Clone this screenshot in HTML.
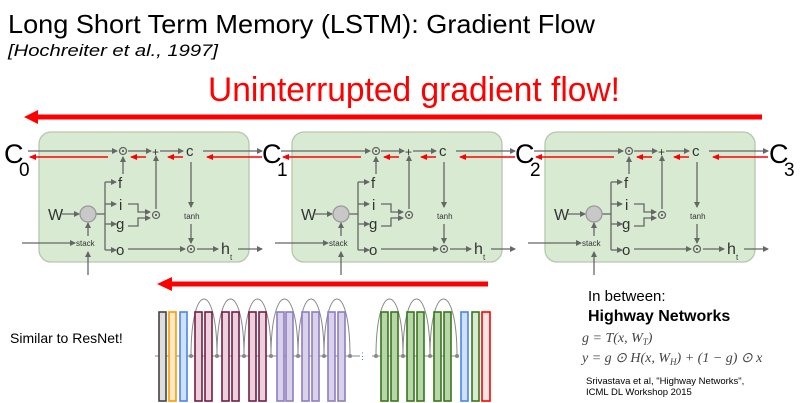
<!DOCTYPE html>
<html><head><meta charset="utf-8"><style>
html,body{margin:0;padding:0;background:#fff;}
svg{display:block;font-family:"Liberation Sans",Arial,sans-serif;}
.lb{fill:#333;font-size:15px;}
</style></head><body>
<svg width="800" height="403" viewBox="0 0 800 403" xmlns="http://www.w3.org/2000/svg">
<defs>
<marker id="ag" markerWidth="6" markerHeight="6" refX="5" refY="3" orient="auto" markerUnits="userSpaceOnUse"><path d="M0,0 L6,3 L0,6 z" fill="#666"/></marker>
<marker id="ar" markerWidth="7" markerHeight="6" refX="6" refY="3" orient="auto" markerUnits="userSpaceOnUse"><path d="M0,0 L7,3 L0,6 z" fill="#f00"/></marker>
</defs>
<text x="8" y="33" font-size="26" textLength="587" lengthAdjust="spacingAndGlyphs">Long Short Term Memory (LSTM): Gradient Flow</text>
<text x="8" y="56" font-size="17" font-style="italic" textLength="210" lengthAdjust="spacingAndGlyphs">[Hochreiter et al., 1997]</text>
<text x="208" y="101" font-size="34" fill="#f00" textLength="412" lengthAdjust="spacingAndGlyphs">Uninterrupted gradient flow!</text>
<line x1="762" y1="117" x2="36" y2="117" stroke="#f00" stroke-width="5"/>
<path d="M24,117 L38,110 L38,124 z" fill="#f00"/>

<g stroke-width="1.3">
<g>
<rect x="39" y="132" width="210" height="130" rx="12" fill="#d9ead3" stroke="#b5c7ae"/>
<g stroke="#666" fill="none">
<line x1="28" y1="151" x2="117" y2="151" marker-end="url(#ag)"/>
<line x1="128" y1="151" x2="151" y2="151" marker-end="url(#ag)"/>
<line x1="160" y1="151" x2="183" y2="151" marker-end="url(#ag)"/>
<line x1="203" y1="151" x2="262" y2="151" marker-end="url(#ag)"/>
<line x1="62" y1="214" x2="79" y2="214" marker-end="url(#ag)"/>
<line x1="96" y1="214" x2="105" y2="214"/>
<line x1="105" y1="182" x2="105" y2="250"/>
<line x1="105" y1="182" x2="116" y2="182" marker-end="url(#ag)"/>
<line x1="105" y1="204" x2="116" y2="204" marker-end="url(#ag)"/>
<line x1="105" y1="224" x2="116" y2="224" marker-end="url(#ag)"/>
<line x1="105" y1="250" x2="116" y2="250" marker-end="url(#ag)"/>
<line x1="123" y1="174" x2="123" y2="157" marker-end="url(#ag)"/>
<path d="M128,204 H138 V212 H150" marker-end="url(#ag)"/>
<path d="M128,226 H138 V218 H150" marker-end="url(#ag)"/>
<line x1="156" y1="209" x2="156" y2="156" marker-end="url(#ag)"/>
<line x1="191" y1="162" x2="191" y2="207" marker-end="url(#ag)"/>
<line x1="191" y1="224" x2="191" y2="243" marker-end="url(#ag)"/>
<line x1="128" y1="249" x2="185" y2="249" marker-end="url(#ag)"/>
<line x1="197" y1="249" x2="218" y2="249" marker-end="url(#ag)"/>
<line x1="238" y1="249" x2="262" y2="249" marker-end="url(#ag)"/>
<line x1="22" y1="243" x2="75" y2="243" marker-end="url(#ag)"/>
<line x1="88" y1="275" x2="88" y2="252" marker-end="url(#ag)"/>
<line x1="88" y1="236" x2="88" y2="223" marker-end="url(#ag)"/>
<circle cx="123" cy="151" r="3.5"/><circle cx="156" cy="215" r="3.5"/><circle cx="191" cy="249" r="3.5"/>
</g>
<circle cx="123" cy="151" r="1" fill="#444"/><circle cx="156" cy="215" r="1" fill="#444"/><circle cx="191" cy="249" r="1" fill="#444"/>
<circle cx="88" cy="214" r="8" fill="#c8c8c8" stroke="#999"/>
<g stroke="#f00" stroke-width="1.5">
<line x1="262" y1="157" x2="207" y2="157" marker-end="url(#ar)"/>
<line x1="183" y1="157" x2="168" y2="157" marker-end="url(#ar)"/>
<line x1="146" y1="157" x2="131" y2="157" marker-end="url(#ar)"/>
<line x1="108" y1="157" x2="30" y2="157" marker-end="url(#ar)"/>
</g>
<g class="lb">
<text x="152" y="156" font-size="12">+</text>
<text x="186" y="156" font-size="15">c</text>
<text x="118" y="188">f</text><text x="119" y="210">i</text><text x="116" y="229">g</text><text x="116" y="255">o</text>
<text x="48" y="220" font-size="16">W</text>
<text x="76" y="246" font-size="8">stack</text>
<text x="184" y="219" font-size="8">tanh</text>
<text x="221" y="254" font-size="16">h</text><text x="230" y="260" font-size="8">t</text>
</g>
</g>
<g transform="translate(253,0)">
<rect x="39" y="132" width="210" height="130" rx="12" fill="#d9ead3" stroke="#b5c7ae"/>
<g stroke="#666" fill="none">
<line x1="28" y1="151" x2="117" y2="151" marker-end="url(#ag)"/>
<line x1="128" y1="151" x2="151" y2="151" marker-end="url(#ag)"/>
<line x1="160" y1="151" x2="183" y2="151" marker-end="url(#ag)"/>
<line x1="203" y1="151" x2="262" y2="151" marker-end="url(#ag)"/>
<line x1="62" y1="214" x2="79" y2="214" marker-end="url(#ag)"/>
<line x1="96" y1="214" x2="105" y2="214"/>
<line x1="105" y1="182" x2="105" y2="250"/>
<line x1="105" y1="182" x2="116" y2="182" marker-end="url(#ag)"/>
<line x1="105" y1="204" x2="116" y2="204" marker-end="url(#ag)"/>
<line x1="105" y1="224" x2="116" y2="224" marker-end="url(#ag)"/>
<line x1="105" y1="250" x2="116" y2="250" marker-end="url(#ag)"/>
<line x1="123" y1="174" x2="123" y2="157" marker-end="url(#ag)"/>
<path d="M128,204 H138 V212 H150" marker-end="url(#ag)"/>
<path d="M128,226 H138 V218 H150" marker-end="url(#ag)"/>
<line x1="156" y1="209" x2="156" y2="156" marker-end="url(#ag)"/>
<line x1="191" y1="162" x2="191" y2="207" marker-end="url(#ag)"/>
<line x1="191" y1="224" x2="191" y2="243" marker-end="url(#ag)"/>
<line x1="128" y1="249" x2="185" y2="249" marker-end="url(#ag)"/>
<line x1="197" y1="249" x2="218" y2="249" marker-end="url(#ag)"/>
<line x1="238" y1="249" x2="262" y2="249" marker-end="url(#ag)"/>
<line x1="22" y1="243" x2="75" y2="243" marker-end="url(#ag)"/>
<line x1="88" y1="275" x2="88" y2="252" marker-end="url(#ag)"/>
<line x1="88" y1="236" x2="88" y2="223" marker-end="url(#ag)"/>
<circle cx="123" cy="151" r="3.5"/><circle cx="156" cy="215" r="3.5"/><circle cx="191" cy="249" r="3.5"/>
</g>
<circle cx="123" cy="151" r="1" fill="#444"/><circle cx="156" cy="215" r="1" fill="#444"/><circle cx="191" cy="249" r="1" fill="#444"/>
<circle cx="88" cy="214" r="8" fill="#c8c8c8" stroke="#999"/>
<g stroke="#f00" stroke-width="1.5">
<line x1="262" y1="157" x2="207" y2="157" marker-end="url(#ar)"/>
<line x1="183" y1="157" x2="168" y2="157" marker-end="url(#ar)"/>
<line x1="146" y1="157" x2="131" y2="157" marker-end="url(#ar)"/>
<line x1="108" y1="157" x2="30" y2="157" marker-end="url(#ar)"/>
</g>
<g class="lb">
<text x="152" y="156" font-size="12">+</text>
<text x="186" y="156" font-size="15">c</text>
<text x="118" y="188">f</text><text x="119" y="210">i</text><text x="116" y="229">g</text><text x="116" y="255">o</text>
<text x="48" y="220" font-size="16">W</text>
<text x="76" y="246" font-size="8">stack</text>
<text x="184" y="219" font-size="8">tanh</text>
<text x="221" y="254" font-size="16">h</text><text x="230" y="260" font-size="8">t</text>
</g>
</g>
<g transform="translate(506,0)">
<rect x="39" y="132" width="210" height="130" rx="12" fill="#d9ead3" stroke="#b5c7ae"/>
<g stroke="#666" fill="none">
<line x1="28" y1="151" x2="117" y2="151" marker-end="url(#ag)"/>
<line x1="128" y1="151" x2="151" y2="151" marker-end="url(#ag)"/>
<line x1="160" y1="151" x2="183" y2="151" marker-end="url(#ag)"/>
<line x1="203" y1="151" x2="262" y2="151" marker-end="url(#ag)"/>
<line x1="62" y1="214" x2="79" y2="214" marker-end="url(#ag)"/>
<line x1="96" y1="214" x2="105" y2="214"/>
<line x1="105" y1="182" x2="105" y2="250"/>
<line x1="105" y1="182" x2="116" y2="182" marker-end="url(#ag)"/>
<line x1="105" y1="204" x2="116" y2="204" marker-end="url(#ag)"/>
<line x1="105" y1="224" x2="116" y2="224" marker-end="url(#ag)"/>
<line x1="105" y1="250" x2="116" y2="250" marker-end="url(#ag)"/>
<line x1="123" y1="174" x2="123" y2="157" marker-end="url(#ag)"/>
<path d="M128,204 H138 V212 H150" marker-end="url(#ag)"/>
<path d="M128,226 H138 V218 H150" marker-end="url(#ag)"/>
<line x1="156" y1="209" x2="156" y2="156" marker-end="url(#ag)"/>
<line x1="191" y1="162" x2="191" y2="207" marker-end="url(#ag)"/>
<line x1="191" y1="224" x2="191" y2="243" marker-end="url(#ag)"/>
<line x1="128" y1="249" x2="185" y2="249" marker-end="url(#ag)"/>
<line x1="197" y1="249" x2="218" y2="249" marker-end="url(#ag)"/>
<line x1="238" y1="249" x2="262" y2="249" marker-end="url(#ag)"/>
<line x1="22" y1="243" x2="75" y2="243" marker-end="url(#ag)"/>
<line x1="88" y1="275" x2="88" y2="252" marker-end="url(#ag)"/>
<line x1="88" y1="236" x2="88" y2="223" marker-end="url(#ag)"/>
<circle cx="123" cy="151" r="3.5"/><circle cx="156" cy="215" r="3.5"/><circle cx="191" cy="249" r="3.5"/>
</g>
<circle cx="123" cy="151" r="1" fill="#444"/><circle cx="156" cy="215" r="1" fill="#444"/><circle cx="191" cy="249" r="1" fill="#444"/>
<circle cx="88" cy="214" r="8" fill="#c8c8c8" stroke="#999"/>
<g stroke="#f00" stroke-width="1.5">
<line x1="262" y1="157" x2="207" y2="157" marker-end="url(#ar)"/>
<line x1="183" y1="157" x2="168" y2="157" marker-end="url(#ar)"/>
<line x1="146" y1="157" x2="131" y2="157" marker-end="url(#ar)"/>
<line x1="108" y1="157" x2="30" y2="157" marker-end="url(#ar)"/>
</g>
<g class="lb">
<text x="152" y="156" font-size="12">+</text>
<text x="186" y="156" font-size="15">c</text>
<text x="118" y="188">f</text><text x="119" y="210">i</text><text x="116" y="229">g</text><text x="116" y="255">o</text>
<text x="48" y="220" font-size="16">W</text>
<text x="76" y="246" font-size="8">stack</text>
<text x="184" y="219" font-size="8">tanh</text>
<text x="221" y="254" font-size="16">h</text><text x="230" y="260" font-size="8">t</text>
</g>
</g>
</g>
<g font-size="27" fill="#000">
<text x="4" y="163">C</text><text x="19" y="176" font-size="19">0</text>
<text x="262" y="163">C</text><text x="277" y="176" font-size="19">1</text>
<text x="515" y="163">C</text><text x="530" y="176" font-size="19">2</text>
<text x="769" y="163">C</text><text x="784" y="176" font-size="19">3</text>
</g>

<line x1="488" y1="284" x2="172" y2="284" stroke="#f00" stroke-width="5"/>
<path d="M157,284 L172,277 L172,291 z" fill="#f00"/>
<text x="10" y="343" font-size="14">Similar to ResNet!</text>
<g fill="none" stroke="#888" stroke-width="1">
<line x1="155" y1="356" x2="360" y2="356"/>
<line x1="372" y1="356" x2="458" y2="356"/>
<path d="M191,356 C191,280 217,280 217,356"/>
<path d="M217,356 C217,280 244,280 244,356"/>
<path d="M244,356 C244,280 271,280 271,356"/>
<path d="M271,356 C271,280 298,280 298,356"/>
<path d="M298,356 C298,280 324,280 324,356"/>
<path d="M324,356 C324,280 350,280 350,356"/>
<path d="M376,356 C376,280 403,280 403,356"/>
<path d="M403,356 C403,280 430,280 430,356"/>
<path d="M430,356 C430,280 457,280 457,356"/>
</g>
<g fill="#888"><circle cx="191" cy="356" r="2"/><circle cx="217" cy="356" r="2"/><circle cx="244" cy="356" r="2"/><circle cx="271" cy="356" r="2"/><circle cx="298" cy="356" r="2"/><circle cx="324" cy="356" r="2"/><circle cx="350" cy="356" r="2"/><circle cx="376" cy="356" r="2"/><circle cx="403" cy="356" r="2"/><circle cx="430" cy="356" r="2"/><circle cx="457" cy="356" r="2"/></g>
<text x="358" y="359" font-size="9" fill="#3a78c2">⋮</text>
<g stroke-width="1.6">
<rect x="159" y="312" width="7" height="89" fill="#ddd" stroke="#444"/>
<rect x="169" y="312" width="7" height="89" fill="#fde9c8" stroke="#f90"/>
<rect x="180" y="312" width="7" height="89" fill="#cfe0f7" stroke="#4a86e8"/>
<g fill="#ead1dc" stroke="#741b47">
<rect x="195" y="312" width="7" height="89"/><rect x="205" y="312" width="7" height="89"/>
<rect x="222" y="312" width="7" height="89"/><rect x="232" y="312" width="7" height="89"/>
<rect x="249" y="312" width="7" height="89"/><rect x="259" y="312" width="7" height="89"/>
</g>
<g fill="#d9d2e9" stroke="#8e7cc3">
<rect x="277" y="312" width="7" height="89"/><rect x="286" y="312" width="7" height="89"/>
<rect x="302" y="312" width="7" height="89"/><rect x="312" y="312" width="7" height="89"/>
<rect x="328" y="312" width="7" height="89"/><rect x="338" y="312" width="7" height="89"/>
</g>
<g fill="#b6d7a8" stroke="#38761d">
<rect x="381" y="312" width="7" height="89"/><rect x="391" y="312" width="7" height="89"/>
<rect x="407" y="312" width="7" height="89"/><rect x="417" y="312" width="7" height="89"/>
<rect x="434" y="312" width="7" height="89"/><rect x="444" y="312" width="7" height="89"/>
</g>
<rect x="461" y="312" width="7" height="89" fill="#cfe0f7" stroke="#4a86e8"/>
<rect x="472" y="312" width="7" height="89" fill="#d9ead3" stroke="#38761d"/>
<rect x="482" y="312" width="8" height="89" fill="#fce5e5" stroke="#f00"/>
</g>

<text x="588" y="301" font-size="15">In between:</text>
<text x="588" y="321" font-size="16" font-weight="bold">Highway Networks</text>
<g font-family="'Liberation Serif',serif" font-size="14" fill="#444" font-style="italic">
<text x="582" y="342">g = T(x, W<tspan font-size="9" dy="3">T</tspan><tspan dy="-3">)</tspan></text>
<text x="582" y="362">y = g ⊙ H(x, W<tspan font-size="9" dy="3">H</tspan><tspan dy="-3">) + (1 − g) ⊙ x</tspan></text>
</g>
<text x="586" y="384" font-size="9.5">Srivastava et al, "Highway Networks",</text>
<text x="586" y="395" font-size="9.5">ICML DL Workshop 2015</text>
</svg>
</body></html>
